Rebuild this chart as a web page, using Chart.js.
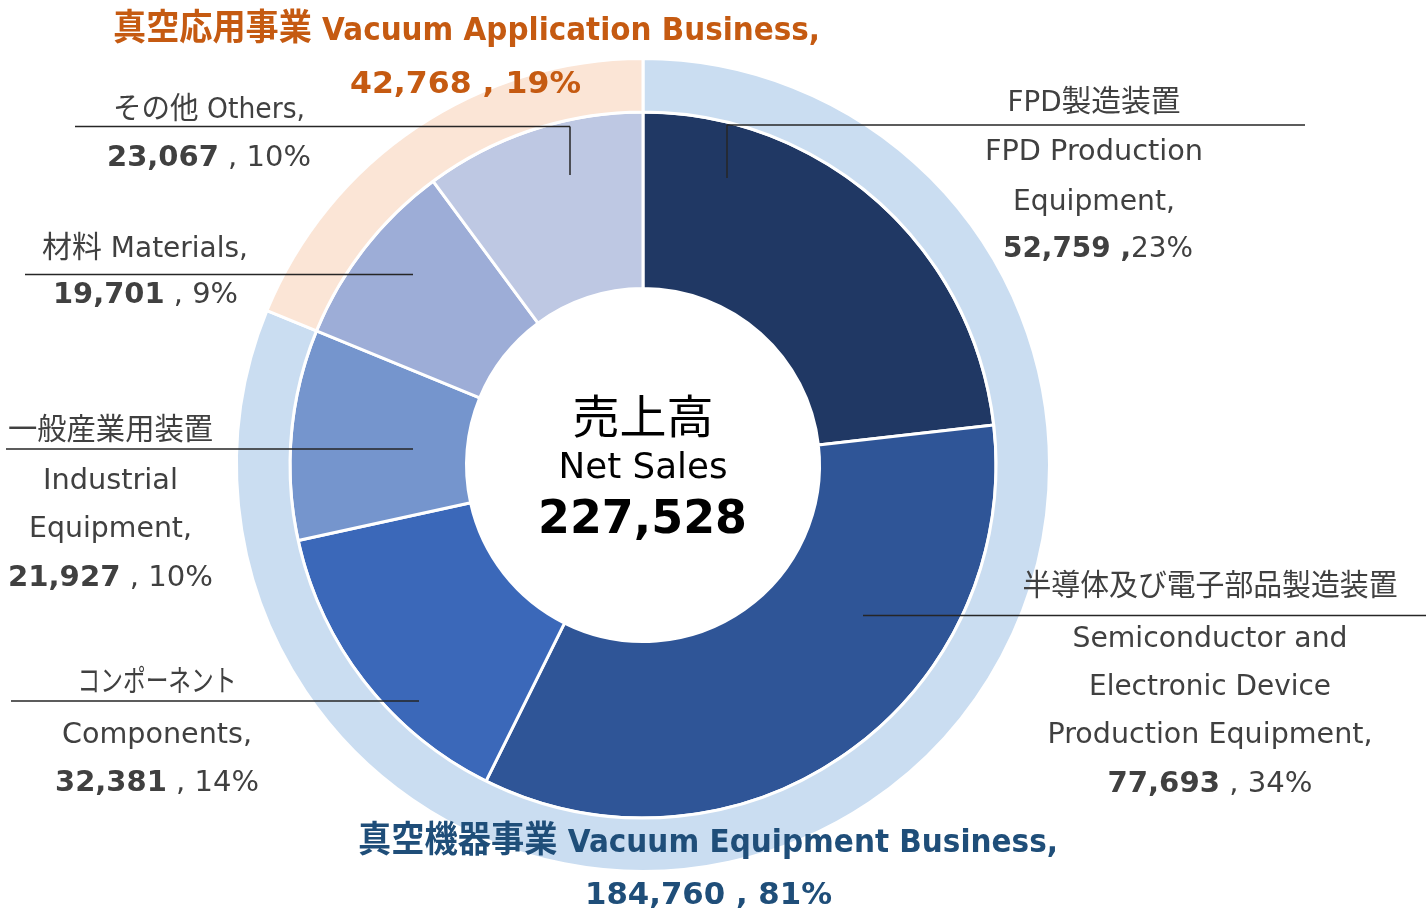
<!DOCTYPE html>
<html>
<head>
<meta charset="utf-8">
<script src="https://cdn.jsdelivr.net/npm/chart.js@4"></script>
<style>
  html, body { margin: 0; padding: 0; background: #ffffff; }
  canvas { display: block; }
</style>
</head>
<body>
<canvas id="c" width="1426" height="912"></canvas>
<script>
// ---------------- data ----------------
const segJa = ['FPD製造装置', '半導体及び電子部品製造装置', 'コンポーネント', '一般産業用装置', '材料', 'その他'];
const segEn = ['FPD Production\nEquipment', 'Semiconductor and\nElectronic Device\nProduction Equipment', 'Components', 'Industrial\nEquipment', 'Materials', 'Others'];
const segValues = [52759, 77693, 32381, 21927, 19701, 23067];
const segPct = ['23%', '34%', '14%', '10%', '9%', '10%'];

const bizJa = ['真空機器事業', '真空応用事業'];
const bizEn = ['Vacuum Equipment Business', 'Vacuum Application Business'];
const bizValues = [184760, 42768];
const bizPct = ['81%', '19%'];

const centerJa = '売上高';
const centerEn = 'Net Sales';
const netSales = 227528;

// ---------------- styles / layout ----------------
const segColors = ['#203864', '#2F5597', '#3B68B9', '#7595CD', '#9DADD7', '#BEC8E3'];
const bizColors = ['#CADDF1', '#FBE5D6'];
const bizTextColors = ['#1F4E79', '#C55A11'];
const labelColor = '#404040';

const segLayout = [
  { cx: 1094, jaY: 111, jaW: 173, enYs: [160, 210], enWs: [218, 162], valCx: 1098, valY: 257, valW: 190, tight: true,
    rules: [[727, 125, 1305, 125], [727, 125, 727, 178]] },
  { cx: 1210, jaY: 595, jaW: 375, enYs: [647, 695, 743], enWs: [275, 242, 325], valCx: 1210, valY: 792, valW: 205,
    rules: [[863, 615.5, 1426, 615.5]] },
  { cx: 157, jaY: 691, jaW: 159, enYs: [743], enWs: [190], valCx: 157, valY: 791, valW: 204,
    rules: [[11, 701, 419, 701]] },
  { cx: 110.5, jaY: 439, jaW: 205, enYs: [489, 537], enWs: [135, 163], valCx: 110.5, valY: 586, valW: 205,
    rules: [[6, 449, 413, 449]] },
  { cx: 145, inline: true, jaY: 257, jaW: 206, valCx: 145.5, valY: 303, valW: 185,
    rules: [[25, 274.5, 413, 274.5]] },
  { cx: 209, inline: true, jaY: 118, jaW: 192, valCx: 209, valY: 166, valW: 204,
    rules: [[75, 126.5, 570, 126.5], [570, 126.5, 570, 175]] }
];
const bizLayout = [
  { cx: 708, titleY: 852, titleW: 700, valCx: 708.5, valY: 904, valW: 247 },
  { cx: 466.5, titleY: 40, titleW: 707, valCx: 465.5, valY: 93, valW: 231 }
];

const LATIN = '"DejaVu Sans", "Noto Sans CJK JP", sans-serif';
const CJK = '"Noto Sans CJK JP", "DejaVu Sans", sans-serif';
const fmt = v => v.toLocaleString('en-US');

function drawRuns(ctx, runs, cx, y, targetW, color, cjkScale) {
  const cs = cjkScale || 1;
  const pieces = [];
  const re = /([\u3000-\u30ff\u3400-\u9fff\uff00-\uffef]+)|([^\u3000-\u30ff\u3400-\u9fff\uff00-\uffef]+)/g;
  runs.forEach(r => {
    let m;
    re.lastIndex = 0;
    while ((m = re.exec(r.t))) {
      const cjk = !!m[1];
      const size = cjk ? Math.round(r.size * cs) : r.size;
      pieces.push({ t: m[0], font: (r.bold ? 'bold ' : '') + size + 'px ' + (cjk ? CJK : LATIN) });
    }
  });
  let W = 0;
  pieces.forEach(p => { ctx.font = p.font; p.w = ctx.measureText(p.t).width; W += p.w; });
  const s = targetW ? targetW / W : 1;
  ctx.save();
  ctx.translate(cx - (W * s) / 2, y);
  ctx.scale(s, 1);
  ctx.fillStyle = color;
  ctx.textAlign = 'left';
  ctx.textBaseline = 'alphabetic';
  let x = 0;
  pieces.forEach(p => { ctx.font = p.font; ctx.fillText(p.t, x, 0); x += p.w; });
  ctx.restore();
}

const labelPlugin = {
  id: 'labels',
  afterDatasetsDraw(chart) {
    const ctx = chart.ctx;
    const S = 28;
    // leader lines
    ctx.save();
    ctx.strokeStyle = '#262626';
    ctx.lineWidth = 1.5;
    segLayout.forEach(L => {
      L.rules.forEach(r => {
        ctx.beginPath();
        ctx.moveTo(r[0], r[1]);
        ctx.lineTo(r[2], r[3]);
        ctx.stroke();
      });
    });
    ctx.restore();

    // segment labels
    segLayout.forEach((L, i) => {
      const enLines = segEn[i].split('\n');
      if (L.inline) {
        drawRuns(ctx, [{ t: segJa[i] + ' ' + enLines[0] + ',', size: S }], L.cx, L.jaY, L.jaW, labelColor, 1.07);
      } else {
        drawRuns(ctx, [{ t: segJa[i], size: S }], L.cx, L.jaY, L.jaW, labelColor, 1.07);
        enLines.forEach((t, k) => {
          const txt = k === enLines.length - 1 ? t + ',' : t;
          drawRuns(ctx, [{ t: txt, size: S }], L.cx, L.enYs[k], L.enWs[k], labelColor);
        });
      }
      const runs = L.tight
        ? [{ t: fmt(segValues[i]) + ' ,', bold: true, size: S }, { t: segPct[i], size: S }]
        : [{ t: fmt(segValues[i]), bold: true, size: S }, { t: ' , ' + segPct[i], size: S }];
      drawRuns(ctx, runs, L.valCx, L.valY, L.valW, labelColor);
    });

    // business titles
    bizLayout.forEach((B, i) => {
      drawRuns(ctx, [{ t: bizJa[i] + ' ' + bizEn[i] + ',', bold: true, size: 32 }], B.cx, B.titleY, B.titleW, bizTextColors[i], 1.12);
      drawRuns(ctx, [{ t: fmt(bizValues[i]) + ' , ' + bizPct[i], bold: true, size: 31 }], B.valCx, B.valY, B.valW, bizTextColors[i]);
    });

    // center
    drawRuns(ctx, [{ t: centerJa, size: 46 }], 643, 433, 141, '#000000');
    drawRuns(ctx, [{ t: centerEn, size: 36 }], 643, 478, 169, '#000000');
    drawRuns(ctx, [{ t: fmt(netSales), bold: true, size: 46 }], 642.5, 533, 209, '#000000');
  }
};

new Chart(document.getElementById('c'), {
  type: 'doughnut',
  data: {
    labels: segJa,
    datasets: [
      { label: 'business', data: bizValues, backgroundColor: bizColors, borderColor: '#ffffff', borderWidth: 3, weight: 53.5 },
      { label: 'segments', data: segValues, backgroundColor: segColors, borderColor: '#ffffff', borderWidth: 3, weight: 176.5 }
    ]
  },
  options: {
    responsive: false,
    animation: false,
    radius: 406.5,
    cutout: '43.42%',
    layout: { padding: { left: 0, right: 140, top: 18, bottom: 0 } },
    plugins: { legend: { display: false }, tooltip: { enabled: false } }
  },
  plugins: [labelPlugin]
});
</script>
</body>
</html>
